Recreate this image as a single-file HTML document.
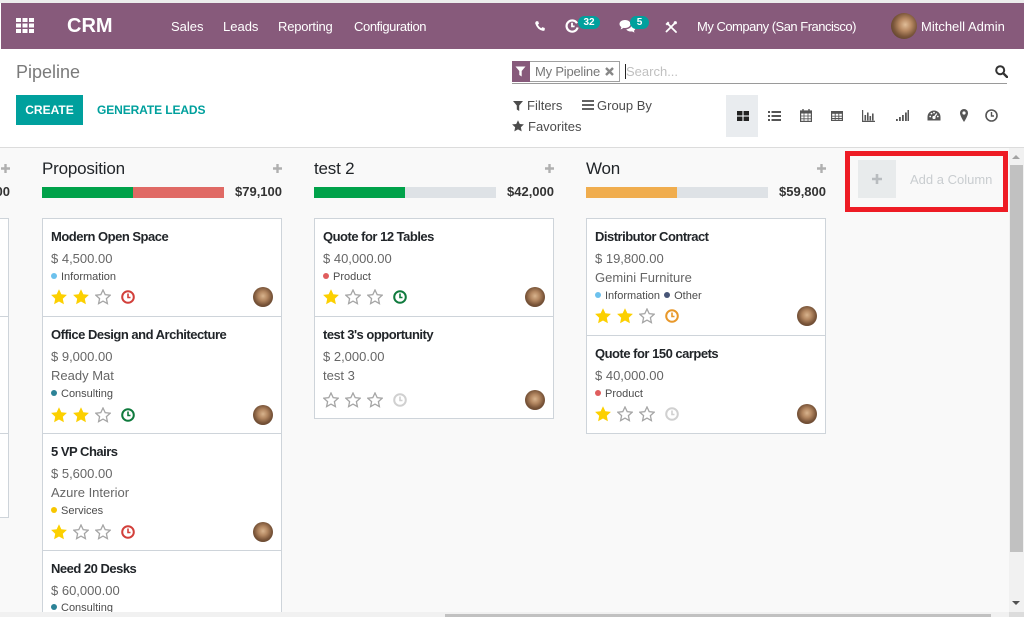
<!DOCTYPE html>
<html><head><meta charset="utf-8">
<style>
*{margin:0;padding:0;box-sizing:border-box}
html,body{width:1024px;height:617px;overflow:hidden;background:#fff;font-family:"Liberation Sans",Arial,sans-serif;position:relative}
.a{position:absolute;white-space:nowrap;line-height:20px}
.nav{position:absolute;left:1px;top:3px;width:1023px;height:46px;background:#875A7B}
.nt{position:absolute;color:#fff;font-size:13px;line-height:20px;top:17px;white-space:nowrap}
.badge{position:absolute;top:16px;height:13px;border-radius:7px;background:#00A09D;color:#fff;font-size:10px;font-weight:bold;line-height:13px;text-align:center}
.card{position:absolute;background:#fff;border:1px solid #ced4da;width:240px;overflow:hidden}
.ti{position:absolute;left:8px;font-size:13px;letter-spacing:-0.5px;font-weight:bold;color:#212529;line-height:20px;white-space:nowrap;margin-top:1px}
.am{position:absolute;left:8px;font-size:13px;color:#666;line-height:20px;white-space:nowrap;margin-top:1px}
.tg{position:absolute;left:8px;font-size:11px;color:#4c4c4c;line-height:16px;white-space:nowrap;margin-top:1px}
.dot{display:inline-block;width:6px;height:6px;border-radius:50%;margin-right:4px;vertical-align:1px}
.row{position:absolute;left:8px;height:16px;width:240px}
.row svg{position:absolute;top:0}
.av{position:absolute;left:210px;width:20px;height:20px;border-radius:50%;background:radial-gradient(circle at 50% 45%,#d8b48e 0,#b48862 30%,#7a5539 60%,#4a3425 100%)}
.hd{position:absolute;font-size:17px;color:#212529;line-height:20px;top:159px;letter-spacing:-0.2px}
.tot{position:absolute;font-size:13px;font-weight:bold;color:#333;line-height:20px;top:182px;text-align:right;width:80px}
.bar{position:absolute;top:187px;height:11px}
.vi{position:absolute;top:108px}
.ft{position:absolute;font-size:13px;color:#4c4c4c;line-height:20px;white-space:nowrap}
</style></head><body>

<!-- top strip -->
<div style="position:absolute;left:0;top:0;width:1024px;height:3px;background:#ececec"></div>
<div class="nav"></div>

<!-- app grid icon -->
<svg style="position:absolute;left:16px;top:18px" width="18" height="15" viewBox="0 0 18 15">
<g fill="#fff">
<rect x="0" y="0" width="5" height="4"/><rect x="6.5" y="0" width="5" height="4"/><rect x="13" y="0" width="5" height="4"/>
<rect x="0" y="5.5" width="5" height="4"/><rect x="6.5" y="5.5" width="5" height="4"/><rect x="13" y="5.5" width="5" height="4"/>
<rect x="0" y="11" width="5" height="4"/><rect x="6.5" y="11" width="5" height="4"/><rect x="13" y="11" width="5" height="4"/>
</g></svg>
<div class="nt" style="left:67px;top:15px;font-size:20px;font-weight:bold;line-height:22px">CRM</div>
<div class="nt" style="left:171px">Sales</div>
<div class="nt" style="left:223px">Leads</div>
<div class="nt" style="left:278px;letter-spacing:-0.2px">Reporting</div>
<div class="nt" style="left:354px;letter-spacing:-0.4px">Configuration</div>

<!-- phone -->
<svg style="position:absolute;left:535px;top:21px" width="10" height="10" viewBox="0 0 10 10"><path d="M1.2 0.3 L3.2 0.2 L4 2.8 L2.8 3.8 Q4 6.2 6.3 7.3 L7.3 6.1 L9.8 7 L9.7 9.2 Q9 9.9 7.6 9.8 Q2.2 8.6 0.2 2.4 Q0.2 1 1.2 0.3Z" fill="#fff"/></svg>
<!-- activity clock -->
<svg style="position:absolute;left:565px;top:19px" width="14" height="14" viewBox="0 0 14 14"><path d="M12 4.2 A5.6 5.6 0 1 0 12.6 8.5" fill="none" stroke="#fff" stroke-width="2.2"/><path d="M7 3.8V7.4H9.6" fill="none" stroke="#fff" stroke-width="1.8"/></svg>
<div class="badge" style="left:578px;width:22px">32</div>
<!-- chat -->
<svg style="position:absolute;left:619px;top:19px" width="17" height="14" viewBox="0 0 17 14"><path d="M6 1 C2.5 1 0.5 3 0.5 5 C0.5 6.4 1.3 7.4 2.4 8.1 L1.6 10.5 L4.6 8.9 C5 9 5.5 9 6 9 C9.5 9 11.5 7 11.5 5 C11.5 3 9.5 1 6 1Z" fill="#fff"/><path d="M12.6 5.2 C14.8 5.7 16.4 7.2 16.4 9 C16.4 10.2 15.8 11.1 14.9 11.7 L15.5 13.6 L13 12.4 C12.6 12.5 12.2 12.5 11.8 12.5 C9.6 12.5 8 11.6 7.3 10.2 C10.5 9.9 12.7 8 12.6 5.2Z" fill="#fff"/></svg>
<div class="badge" style="left:630px;width:19px">5</div>
<!-- tools -->
<svg style="position:absolute;left:665px;top:21px" width="12" height="12" viewBox="0 0 12 12"><path d="M2.5 2.5 L11 11 M10 2 L1.5 10.5" stroke="#fff" stroke-width="1.8" stroke-linecap="round"/><path d="M0.5 3 L3 0.5 L4.5 2 L2 4.5Z" fill="#fff"/><circle cx="10.3" cy="1.7" r="1.6" fill="#fff"/></svg>
<div class="nt" style="left:697px;letter-spacing:-0.5px">My Company (San Francisco)</div>
<div style="position:absolute;left:891px;top:13px;width:26px;height:26px;border-radius:50%;background:radial-gradient(circle at 55% 45%,#e0bd98 0,#b88a63 30%,#7c573b 58%,#3f2e22 100%)"></div>
<div class="nt" style="left:921px">Mitchell Admin</div>

<!-- control panel -->
<div class="a" style="left:16px;top:62px;font-size:18px;color:#7a7a7a;line-height:20px">Pipeline</div>
<div style="position:absolute;left:16px;top:95px;width:67px;height:30px;background:#00A09D;color:#fff;font-size:12px;font-weight:bold;line-height:30px;text-align:center">CREATE</div>
<div class="a" style="left:97px;top:100px;font-size:12px;font-weight:bold;color:#00A09D;letter-spacing:-0.1px">GENERATE LEADS</div>

<!-- search -->
<div style="position:absolute;left:512px;top:61px;width:108px;height:21px;border:1px solid #a0a0a0;background:#fff"></div>
<div style="position:absolute;left:512px;top:61px;width:18px;height:21px;background:#875A7B"></div>
<svg style="position:absolute;left:515px;top:66px" width="11" height="11" viewBox="0 0 11 11"><path d="M0.5 0.5 H10.5 L6.7 5 V10.5 L4.3 9 V5Z" fill="#fff"/></svg>
<div class="a" style="left:535px;top:62px;font-size:13px;color:#777;letter-spacing:-0.2px">My Pipeline</div>
<svg style="position:absolute;left:605px;top:67px" width="9" height="9" viewBox="0 0 9 9"><path d="M1 1 L8 8 M8 1 L1 8" stroke="#888" stroke-width="2.4"/></svg>
<div style="position:absolute;left:625px;top:64px;width:1px;height:15px;background:#222"></div>
<div class="a" style="left:626px;top:62px;font-size:13px;color:#c0c0c0">Search...</div>
<div style="position:absolute;left:512px;top:83px;width:495px;height:1px;background:#9a9a9a"></div>
<svg style="position:absolute;left:995px;top:65px" width="13" height="13" viewBox="0 0 13 13"><circle cx="5.2" cy="5.2" r="4" fill="none" stroke="#333" stroke-width="2"/><path d="M8.2 8.2 L12 12" stroke="#333" stroke-width="2.4" stroke-linecap="round"/></svg>

<svg style="position:absolute;left:513px;top:101px" width="10" height="10" viewBox="0 0 10 10"><path d="M0 0 H10 L6.2 4.5 V10 L3.8 8.5 V4.5Z" fill="#4c4c4c"/></svg>
<div class="ft" style="left:527px;top:96px">Filters</div>
<svg style="position:absolute;left:582px;top:100px" width="12" height="10" viewBox="0 0 12 10"><path d="M0 1H12M0 5H12M0 9H12" stroke="#4c4c4c" stroke-width="1.8"/></svg>
<div class="ft" style="left:597px;top:96px">Group By</div>
<svg style="position:absolute;left:512px;top:120px" width="12" height="12" viewBox="0 0 16 16"><polygon points="8,0.3 10.35,5.3 15.9,5.9 11.8,9.7 12.9,15.2 8,12.5 3.1,15.2 4.2,9.7 0.1,5.9 5.65,5.3" fill="#4c4c4c"/></svg>
<div class="ft" style="left:528px;top:117px">Favorites</div>

<!-- view switcher -->
<div style="position:absolute;left:726px;top:95px;width:32px;height:42px;background:#e9ecef"></div>
<svg class="vi" style="left:737px;top:111px" width="12" height="10" viewBox="0 0 12 10"><g fill="#222"><rect x="0" y="0" width="5.4" height="4.4"/><rect x="6.6" y="0" width="5.4" height="4.4"/><rect x="0" y="5.6" width="5.4" height="4.4"/><rect x="6.6" y="5.6" width="5.4" height="4.4"/></g></svg>
<svg class="vi" style="left:768px;top:111px" width="13" height="10" viewBox="0 0 13 10"><g fill="#555"><rect x="0" y="0" width="2" height="2"/><rect x="0" y="4" width="2" height="2"/><rect x="0" y="8" width="2" height="2"/><rect x="3.5" y="0" width="9.5" height="2"/><rect x="3.5" y="4" width="9.5" height="2"/><rect x="3.5" y="8" width="9.5" height="2"/></g></svg>
<svg class="vi" style="left:800px;top:109px" width="12" height="13" viewBox="0 0 12 13"><rect x="0.6" y="2" width="10.8" height="10.4" fill="none" stroke="#555" stroke-width="1.2"/><rect x="0.6" y="2" width="10.8" height="2.5" fill="#555"/><path d="M3 0V3M9 0V3" stroke="#555" stroke-width="1.4"/><path d="M0.6 7H11.4M0.6 9.8H11.4M4 4.5V12.4M8 4.5V12.4" stroke="#555" stroke-width="0.8"/></svg>
<svg class="vi" style="left:831px;top:111px" width="12" height="10" viewBox="0 0 12 10"><rect x="0.6" y="0.6" width="10.8" height="8.8" fill="none" stroke="#555" stroke-width="1.2"/><rect x="0.6" y="0.6" width="10.8" height="2.2" fill="#555"/><path d="M0.6 5.2H11.4M0.6 7.5H11.4M4.2 0.6V9.4M7.8 0.6V9.4" stroke="#555" stroke-width="0.9"/></svg>
<svg class="vi" style="left:862px;top:110px" width="13" height="12" viewBox="0 0 13 12"><path d="M0.6 0V11.4H13" stroke="#555" stroke-width="1.2" fill="none"/><g fill="#555"><rect x="2.5" y="5" width="1.6" height="5.5"/><rect x="5" y="2.5" width="1.6" height="8"/><rect x="7.5" y="6" width="1.6" height="4.5"/><rect x="10" y="3.5" width="1.6" height="7"/></g></svg>
<svg class="vi" style="left:896px;top:110px" width="13" height="11" viewBox="0 0 13 11"><g fill="#555"><rect x="0" y="9" width="1.8" height="2"/><rect x="3" y="7" width="1.8" height="4"/><rect x="6" y="5" width="1.8" height="6"/><rect x="9" y="2.5" width="1.8" height="8.5"/><rect x="11.5" y="0" width="1.5" height="11"/></g></svg>
<svg class="vi" style="left:927px;top:110px" width="14" height="11" viewBox="0 0 14 11"><path d="M7 0.5 A6.5 6.5 0 0 0 0.5 7 V10.5 H13.5 V7 A6.5 6.5 0 0 0 7 0.5Z" fill="#555"/><circle cx="7" cy="7.5" r="1.6" fill="#fff"/><path d="M7 7.5 L9.8 3.5" stroke="#fff" stroke-width="1.3"/><circle cx="3.2" cy="6.5" r="0.9" fill="#fff"/><circle cx="4.5" cy="3.6" r="0.9" fill="#fff"/><circle cx="7" cy="2.6" r="0.9" fill="#fff"/><circle cx="10.8" cy="6.5" r="0.9" fill="#fff"/></svg>
<svg class="vi" style="left:960px;top:109px" width="8" height="13" viewBox="0 0 8 13"><path d="M4 0 A4 4 0 0 0 0 4 C0 7 4 13 4 13 C4 13 8 7 8 4 A4 4 0 0 0 4 0Z" fill="#555"/><circle cx="4" cy="4" r="1.6" fill="#fff"/></svg>
<svg class="vi" style="left:985px;top:109px" width="13" height="13" viewBox="0 0 13 13"><circle cx="6.5" cy="6.5" r="5.5" fill="none" stroke="#555" stroke-width="1.6"/><path d="M6.5 3V7H9" fill="none" stroke="#555" stroke-width="1.4"/></svg>

<div style="position:absolute;left:0;top:147px;width:1024px;height:1px;background:#dcdcdc"></div>

<!-- kanban area -->
<div style="position:absolute;left:0;top:148px;width:1009px;height:464px;background:#f9f9f9"></div>

<!-- left partial column -->
<svg style="position:absolute;left:1px;top:164px" width="9" height="9" viewBox="0 0 9 9"><path d="M4.5 0V9M0 4.5H9" stroke="#b0b0b0" stroke-width="2.4"/></svg>
<div class="tot" style="left:-70px">$41,600</div>
<div class="card" style="left:-231px;top:218px;height:99px"></div>
<div class="card" style="left:-231px;top:316px;height:118px"></div>
<div class="card" style="left:-231px;top:433px;height:85px"></div>

<!-- Proposition -->
<div class="hd" style="left:42px">Proposition</div>
<svg style="position:absolute;left:273px;top:164px" width="9" height="9" viewBox="0 0 9 9"><path d="M4.5 0V9M0 4.5H9" stroke="#b0b0b0" stroke-width="2.4"/></svg>
<div class="bar" style="left:42px;width:91px;background:#00a24a"></div>
<div class="bar" style="left:133px;width:91px;background:#e06a65"></div>
<div class="tot" style="left:202px">$79,100</div>

<div class="card" style="left:42px;top:218px;height:99px">
 <div class="ti" style="top:7px">Modern Open Space</div>
 <div class="am" style="top:29px">$ 4,500.00</div>
 <div class="tg" style="top:49px"><span class="dot" style="background:#6cc1ed"></span>Information</div>
 <div class="row" style="top:70px">
  <svg style="left:0" width="16" height="16" viewBox="0 0 16 16"><polygon points="8,0.3 10.35,5.3 15.9,5.9 11.8,9.7 12.9,15.2 8,12.5 3.1,15.2 4.2,9.7 0.1,5.9 5.65,5.3" fill="#fcd000"/></svg>
  <svg style="left:22px" width="16" height="16" viewBox="0 0 16 16"><polygon points="8,0.3 10.35,5.3 15.9,5.9 11.8,9.7 12.9,15.2 8,12.5 3.1,15.2 4.2,9.7 0.1,5.9 5.65,5.3" fill="#fcd000"/></svg>
  <svg style="left:44px" width="16" height="16" viewBox="0 0 16 16"><polygon points="8,1 10.2,5.7 15.2,6.2 11.4,9.6 12.4,14.6 8,12.1 3.6,14.6 4.6,9.6 0.8,6.2 5.8,5.7" fill="none" stroke="#a5a5a5" stroke-width="1.3"/></svg>
  <svg style="left:70px;top:1px" width="14" height="14" viewBox="0 0 14 14"><circle cx="7" cy="7" r="5.8" fill="none" stroke="#d23f3a" stroke-width="2"/><path d="M7 3.5V7.5H9.5" stroke="#d23f3a" stroke-width="1.6" fill="none"/></svg>
 </div>
 <div class="av" style="top:68px"></div>
</div>

<div class="card" style="left:42px;top:316px;height:118px">
 <div class="ti" style="top:7px">Office Design and Architecture</div>
 <div class="am" style="top:29px">$ 9,000.00</div>
 <div class="am" style="top:48px">Ready Mat</div>
 <div class="tg" style="top:68px"><span class="dot" style="background:#2c8397"></span>Consulting</div>
 <div class="row" style="top:90px">
  <svg style="left:0" width="16" height="16" viewBox="0 0 16 16"><polygon points="8,0.3 10.35,5.3 15.9,5.9 11.8,9.7 12.9,15.2 8,12.5 3.1,15.2 4.2,9.7 0.1,5.9 5.65,5.3" fill="#fcd000"/></svg>
  <svg style="left:22px" width="16" height="16" viewBox="0 0 16 16"><polygon points="8,0.3 10.35,5.3 15.9,5.9 11.8,9.7 12.9,15.2 8,12.5 3.1,15.2 4.2,9.7 0.1,5.9 5.65,5.3" fill="#fcd000"/></svg>
  <svg style="left:44px" width="16" height="16" viewBox="0 0 16 16"><polygon points="8,1 10.2,5.7 15.2,6.2 11.4,9.6 12.4,14.6 8,12.1 3.6,14.6 4.6,9.6 0.8,6.2 5.8,5.7" fill="none" stroke="#a5a5a5" stroke-width="1.3"/></svg>
  <svg style="left:70px;top:1px" width="14" height="14" viewBox="0 0 14 14"><circle cx="7" cy="7" r="5.8" fill="none" stroke="#0f7a3d" stroke-width="2"/><path d="M7 3.5V7.5H9.5" stroke="#0f7a3d" stroke-width="1.6" fill="none"/></svg>
 </div>
 <div class="av" style="top:88px"></div>
</div>

<div class="card" style="left:42px;top:433px;height:118px">
 <div class="ti" style="top:7px">5 VP Chairs</div>
 <div class="am" style="top:29px">$ 5,600.00</div>
 <div class="am" style="top:48px">Azure Interior</div>
 <div class="tg" style="top:68px"><span class="dot" style="background:#f7c600"></span>Services</div>
 <div class="row" style="top:90px">
  <svg style="left:0" width="16" height="16" viewBox="0 0 16 16"><polygon points="8,0.3 10.35,5.3 15.9,5.9 11.8,9.7 12.9,15.2 8,12.5 3.1,15.2 4.2,9.7 0.1,5.9 5.65,5.3" fill="#fcd000"/></svg>
  <svg style="left:22px" width="16" height="16" viewBox="0 0 16 16"><polygon points="8,1 10.2,5.7 15.2,6.2 11.4,9.6 12.4,14.6 8,12.1 3.6,14.6 4.6,9.6 0.8,6.2 5.8,5.7" fill="none" stroke="#a5a5a5" stroke-width="1.3"/></svg>
  <svg style="left:44px" width="16" height="16" viewBox="0 0 16 16"><polygon points="8,1 10.2,5.7 15.2,6.2 11.4,9.6 12.4,14.6 8,12.1 3.6,14.6 4.6,9.6 0.8,6.2 5.8,5.7" fill="none" stroke="#a5a5a5" stroke-width="1.3"/></svg>
  <svg style="left:70px;top:1px" width="14" height="14" viewBox="0 0 14 14"><circle cx="7" cy="7" r="5.8" fill="none" stroke="#d23f3a" stroke-width="2"/><path d="M7 3.5V7.5H9.5" stroke="#d23f3a" stroke-width="1.6" fill="none"/></svg>
 </div>
 <div class="av" style="top:88px"></div>
</div>

<div class="card" style="left:42px;top:550px;height:63px">
 <div class="ti" style="top:7px">Need 20 Desks</div>
 <div class="am" style="top:29px">$ 60,000.00</div>
 <div class="tg" style="top:48px"><span class="dot" style="background:#2c8397"></span>Consulting</div>
</div>

<!-- test 2 -->
<div class="hd" style="left:314px">test 2</div>
<svg style="position:absolute;left:545px;top:164px" width="9" height="9" viewBox="0 0 9 9"><path d="M4.5 0V9M0 4.5H9" stroke="#b0b0b0" stroke-width="2.4"/></svg>
<div class="bar" style="left:314px;width:91px;background:#00a24a"></div>
<div class="bar" style="left:405px;width:91px;background:#dee2e6"></div>
<div class="tot" style="left:474px">$42,000</div>

<div class="card" style="left:314px;top:218px;height:99px">
 <div class="ti" style="top:7px">Quote for 12 Tables</div>
 <div class="am" style="top:29px">$ 40,000.00</div>
 <div class="tg" style="top:49px"><span class="dot" style="background:#e05d5d"></span>Product</div>
 <div class="row" style="top:70px">
  <svg style="left:0" width="16" height="16" viewBox="0 0 16 16"><polygon points="8,0.3 10.35,5.3 15.9,5.9 11.8,9.7 12.9,15.2 8,12.5 3.1,15.2 4.2,9.7 0.1,5.9 5.65,5.3" fill="#fcd000"/></svg>
  <svg style="left:22px" width="16" height="16" viewBox="0 0 16 16"><polygon points="8,1 10.2,5.7 15.2,6.2 11.4,9.6 12.4,14.6 8,12.1 3.6,14.6 4.6,9.6 0.8,6.2 5.8,5.7" fill="none" stroke="#a5a5a5" stroke-width="1.3"/></svg>
  <svg style="left:44px" width="16" height="16" viewBox="0 0 16 16"><polygon points="8,1 10.2,5.7 15.2,6.2 11.4,9.6 12.4,14.6 8,12.1 3.6,14.6 4.6,9.6 0.8,6.2 5.8,5.7" fill="none" stroke="#a5a5a5" stroke-width="1.3"/></svg>
  <svg style="left:70px;top:1px" width="14" height="14" viewBox="0 0 14 14"><circle cx="7" cy="7" r="5.8" fill="none" stroke="#0f7a3d" stroke-width="2"/><path d="M7 3.5V7.5H9.5" stroke="#0f7a3d" stroke-width="1.6" fill="none"/></svg>
 </div>
 <div class="av" style="top:68px"></div>
</div>

<div class="card" style="left:314px;top:316px;height:103px">
 <div class="ti" style="top:7px">test 3's opportunity</div>
 <div class="am" style="top:29px">$ 2,000.00</div>
 <div class="am" style="top:48px">test 3</div>
 <div class="row" style="top:75px">
  <svg style="left:0" width="16" height="16" viewBox="0 0 16 16"><polygon points="8,1 10.2,5.7 15.2,6.2 11.4,9.6 12.4,14.6 8,12.1 3.6,14.6 4.6,9.6 0.8,6.2 5.8,5.7" fill="none" stroke="#a5a5a5" stroke-width="1.3"/></svg>
  <svg style="left:22px" width="16" height="16" viewBox="0 0 16 16"><polygon points="8,1 10.2,5.7 15.2,6.2 11.4,9.6 12.4,14.6 8,12.1 3.6,14.6 4.6,9.6 0.8,6.2 5.8,5.7" fill="none" stroke="#a5a5a5" stroke-width="1.3"/></svg>
  <svg style="left:44px" width="16" height="16" viewBox="0 0 16 16"><polygon points="8,1 10.2,5.7 15.2,6.2 11.4,9.6 12.4,14.6 8,12.1 3.6,14.6 4.6,9.6 0.8,6.2 5.8,5.7" fill="none" stroke="#a5a5a5" stroke-width="1.3"/></svg>
  <svg style="left:70px;top:1px" width="14" height="14" viewBox="0 0 14 14"><circle cx="7" cy="7" r="5.8" fill="none" stroke="#d0d0d0" stroke-width="2"/><path d="M7 3.5V7.5H9.5" stroke="#d0d0d0" stroke-width="1.6" fill="none"/></svg>
 </div>
 <div class="av" style="top:73px"></div>
</div>

<!-- Won -->
<div class="hd" style="left:586px">Won</div>
<svg style="position:absolute;left:817px;top:164px" width="9" height="9" viewBox="0 0 9 9"><path d="M4.5 0V9M0 4.5H9" stroke="#b0b0b0" stroke-width="2.4"/></svg>
<div class="bar" style="left:586px;width:91px;background:#f0ad4e"></div>
<div class="bar" style="left:677px;width:91px;background:#dee2e6"></div>
<div class="tot" style="left:746px">$59,800</div>

<div class="card" style="left:586px;top:218px;height:118px">
 <div class="ti" style="top:7px">Distributor Contract</div>
 <div class="am" style="top:29px">$ 19,800.00</div>
 <div class="am" style="top:48px">Gemini Furniture</div>
 <div class="tg" style="top:68px"><span class="dot" style="background:#6cc1ed"></span>Information <span class="dot" style="background:#475577;margin-left:1px"></span>Other</div>
 <div class="row" style="top:89px">
  <svg style="left:0" width="16" height="16" viewBox="0 0 16 16"><polygon points="8,0.3 10.35,5.3 15.9,5.9 11.8,9.7 12.9,15.2 8,12.5 3.1,15.2 4.2,9.7 0.1,5.9 5.65,5.3" fill="#fcd000"/></svg>
  <svg style="left:22px" width="16" height="16" viewBox="0 0 16 16"><polygon points="8,0.3 10.35,5.3 15.9,5.9 11.8,9.7 12.9,15.2 8,12.5 3.1,15.2 4.2,9.7 0.1,5.9 5.65,5.3" fill="#fcd000"/></svg>
  <svg style="left:44px" width="16" height="16" viewBox="0 0 16 16"><polygon points="8,1 10.2,5.7 15.2,6.2 11.4,9.6 12.4,14.6 8,12.1 3.6,14.6 4.6,9.6 0.8,6.2 5.8,5.7" fill="none" stroke="#a5a5a5" stroke-width="1.3"/></svg>
  <svg style="left:70px;top:1px" width="14" height="14" viewBox="0 0 14 14"><circle cx="7" cy="7" r="5.8" fill="none" stroke="#e8982a" stroke-width="2"/><path d="M7 3.5V7.5H9.5" stroke="#e8982a" stroke-width="1.6" fill="none"/></svg>
 </div>
 <div class="av" style="top:87px"></div>
</div>

<div class="card" style="left:586px;top:335px;height:99px">
 <div class="ti" style="top:7px">Quote for 150 carpets</div>
 <div class="am" style="top:29px">$ 40,000.00</div>
 <div class="tg" style="top:49px"><span class="dot" style="background:#e05d5d"></span>Product</div>
 <div class="row" style="top:70px">
  <svg style="left:0" width="16" height="16" viewBox="0 0 16 16"><polygon points="8,0.3 10.35,5.3 15.9,5.9 11.8,9.7 12.9,15.2 8,12.5 3.1,15.2 4.2,9.7 0.1,5.9 5.65,5.3" fill="#fcd000"/></svg>
  <svg style="left:22px" width="16" height="16" viewBox="0 0 16 16"><polygon points="8,1 10.2,5.7 15.2,6.2 11.4,9.6 12.4,14.6 8,12.1 3.6,14.6 4.6,9.6 0.8,6.2 5.8,5.7" fill="none" stroke="#a5a5a5" stroke-width="1.3"/></svg>
  <svg style="left:44px" width="16" height="16" viewBox="0 0 16 16"><polygon points="8,1 10.2,5.7 15.2,6.2 11.4,9.6 12.4,14.6 8,12.1 3.6,14.6 4.6,9.6 0.8,6.2 5.8,5.7" fill="none" stroke="#a5a5a5" stroke-width="1.3"/></svg>
  <svg style="left:70px;top:1px" width="14" height="14" viewBox="0 0 14 14"><circle cx="7" cy="7" r="5.8" fill="none" stroke="#d0d0d0" stroke-width="2"/><path d="M7 3.5V7.5H9.5" stroke="#d0d0d0" stroke-width="1.6" fill="none"/></svg>
 </div>
 <div class="av" style="top:68px"></div>
</div>

<!-- Add a column -->
<div style="position:absolute;left:845px;top:151px;width:163px;height:61px;border:5px solid #ee1c25"></div>
<div style="position:absolute;left:858px;top:160px;width:38px;height:38px;background:#e8ebec"></div>
<svg style="position:absolute;left:872px;top:174px" width="10" height="10" viewBox="0 0 10 10"><path d="M5 0V10M0 5H10" stroke="#b8bcbf" stroke-width="2.6"/></svg>
<div class="a" style="left:910px;top:170px;font-size:13px;color:#c9cdd0">Add a Column</div>

<!-- scrollbars -->
<div style="position:absolute;left:1009px;top:148px;width:15px;height:464px;background:#f1f1f1"></div>
<div style="position:absolute;left:1010px;top:165px;width:13px;height:387px;background:#c1c1c1"></div>
<svg style="position:absolute;left:1012px;top:155px" width="8" height="4" viewBox="0 0 8 4"><path d="M0 4L4 0L8 4Z" fill="#a3a3a3"/></svg>
<svg style="position:absolute;left:1012px;top:601px" width="8" height="4" viewBox="0 0 8 4"><path d="M0 0L8 0L4 4Z" fill="#505050"/></svg>
<div style="position:absolute;left:0;top:612px;width:1024px;height:5px;background:#f1f1f1"></div>
<div style="position:absolute;left:445px;top:614px;width:546px;height:3px;background:#c1c1c1"></div>
<div style="position:absolute;left:1009px;top:612px;width:15px;height:5px;background:#dcdcdc"></div>

</body></html>
